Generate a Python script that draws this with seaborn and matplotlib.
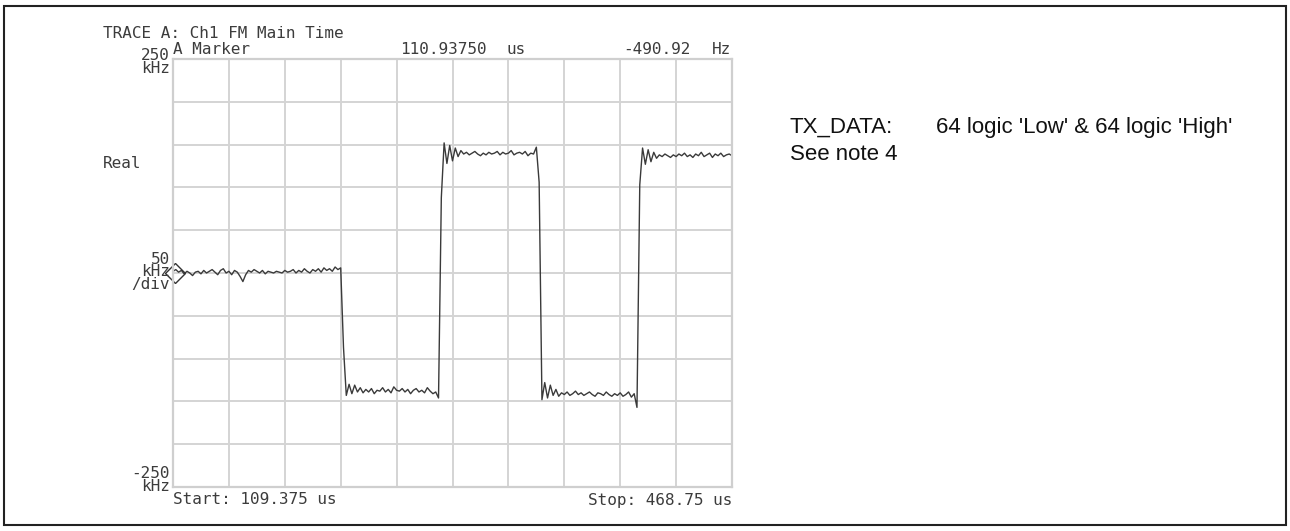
import matplotlib
matplotlib.use("Agg")
import matplotlib.pyplot as plt
import numpy as np
import pandas as pd
import seaborn as sns

# sweep settings
t_start, t_stop = 109.375, 468.75          # us
f_top, f_bottom = 250, -250                # kHz, 50 kHz/div
marker_t, marker_f = 110.93750, -0.49092   # us, kHz

# demodulated FM trace (kHz), one value per sample, by segment
seg_zero = [2, 4, 1, 3, -1, 2, 0, -3, 1, 2, -1, 3, 0, 2, 4, 1, -2, 3, 5, 0,
            2, -2, 3, 1, -4, -10, -2, 3, 1, 4, 2, 0, 3, -1, 2, 1, 0, 2, 1, 0,
            3, 1, 2, 4, 0, 3, 1, 5, 2, 0, 4, 2, 5, 1, 6, 3, 5, 2, 7, 4, 6]
seg_low1 = [-87, -143, -130, -141, -131, -139, -134, -140, -136, -139, -135,
            -141, -137, -138, -134, -139, -136, -140, -133, -137, -138, -135,
            -139, -136, -141, -137, -135, -139, -137, -140, -134, -138, -141,
            -139, -146]
seg_high1 = [88, 152, 128, 149, 131, 146, 136, 143, 139, 141, 138, 140, 142,
             139, 137, 140, 138, 141, 139, 140, 142, 138, 141, 139, 140, 143,
             138, 140, 141, 139, 142, 137, 140, 139, 147]
seg_low2 = [106, -148, -128, -146, -131, -143, -136, -144, -140, -142, -139,
            -143, -141, -138, -142, -140, -143, -141, -139, -142, -144, -140,
            -141, -143, -139, -142, -144, -141, -143, -140, -144, -142, -139,
            -145, -141, -157]
seg_high2 = [103, 146, 127, 144, 130, 141, 134, 138, 136, 139, 137, 135, 138,
             136, 139, 137, 140, 136, 138, 135, 139, 137, 141, 136, 138, 140,
             135, 139, 137, 140, 136, 138, 139, 137]

freq = seg_zero + seg_low1 + seg_high1 + seg_low2 + seg_high2
df = pd.DataFrame({"time_us": np.linspace(t_start, t_stop, len(freq)),
                   "freq_khz": freq})

sns.set_style("white")
plt.rcParams["font.family"] = ["DejaVu Sans Mono"]

fig = plt.figure(figsize=(12.9, 5.31), dpi=100)
ax = fig.add_axes([173 / 1290, 1 - 487 / 531, 559 / 1290, 428 / 531])

sns.lineplot(data=df, x="time_us", y="freq_khz", ax=ax, estimator=None,
             sort=False, color="#3a3a3a", linewidth=1.0)
ax.plot([marker_t], [marker_f], marker="D", markersize=10, mfc="none",
        mec="#333333", mew=1.0, clip_on=False)

ax.set_xlim(t_start, t_stop)
ax.set_ylim(f_bottom, f_top)
ax.set_xticks(np.linspace(t_start, t_stop, 11))
ax.set_yticks(np.arange(f_bottom, f_top + 1, 50))
ax.set_xticklabels([]); ax.set_yticklabels([])
ax.tick_params(length=0)
ax.grid(True, color="#d4d4d4", linewidth=1.4)
ax.set_xlabel(""); ax.set_ylabel("")
for s in ax.spines.values():
    s.set_color("#cfcfcf"); s.set_linewidth(1.6)

def px(x, y, s, size=11.5, **kw):
    fig.text(x / 1290, 1 - y / 531, s, fontsize=size, color="#3c3c3c",
             va="center", **kw)

px(103, 33, "TRACE A: Ch1 FM Main Time")
px(173, 49, "A Marker")
px(400, 49, "110.93750")
px(507, 49, "us")
px(623, 49, "-490.92")
px(731, 49, "Hz", ha="right")
px(170, 62, "250\nkHz", ha="right", linespacing=0.8)
px(103, 163, "Real")
px(170, 272, "50\nkHz\n/div", ha="right", linespacing=0.8)
px(170, 480, "-250\nkHz", ha="right", linespacing=0.8)
px(173, 500, "Start: 109.375 us")
px(732, 500, "Stop: 468.75 us", ha="right")

sans = ["Liberation Sans", "DejaVu Sans"]
fig.text(790 / 1290, 1 - 127 / 531, "TX_DATA:", fontsize=16,
         family=sans, va="center", color="#111111")
fig.text(936 / 1290, 1 - 127 / 531, "64 logic 'Low' & 64 logic 'High'",
         fontsize=16, family=sans, va="center", color="#111111")
fig.text(790 / 1290, 1 - 155 / 531, "See note 4", fontsize=16,
         family=sans, va="center", color="#111111")

# outer frame
fig.patches.append(plt.Rectangle((4 / 1290, 1 - 525 / 531), 1282 / 1290,
                                 519 / 531, transform=fig.transFigure,
                                 fill=False, edgecolor="#222222",
                                 linewidth=1.5))

fig.savefig("out.png", dpi=100)
